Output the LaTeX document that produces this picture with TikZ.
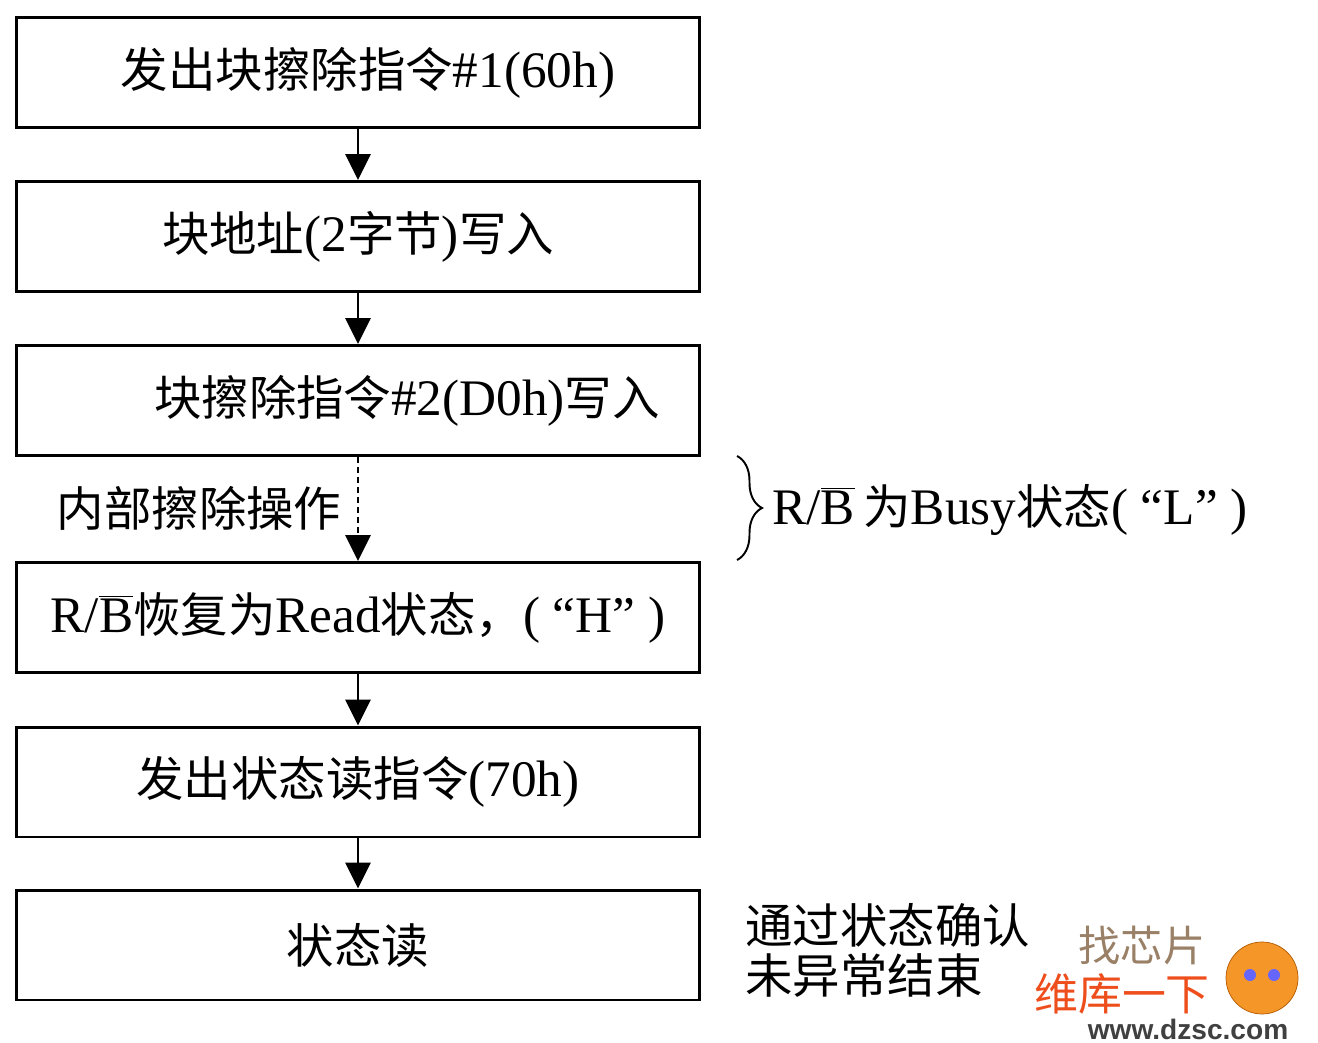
\documentclass[tikz,border=0pt]{standalone}
\usepackage{fontspec}
\setmainfont[Scale=1.08]{Liberation Serif}
\newfontfamily\cjk{Noto Sans CJK SC}
\newfontfamily\wmsans{Liberation Sans}
\usetikzlibrary{arrows.meta,decorations.pathreplacing}

% R/B-bar signal name
\newcommand{\rbsig}{R/$\overline{\hbox{B}}$}

\definecolor{wmred}{RGB}{238,78,28}
\definecolor{wmorange}{RGB}{245,150,40}

\tikzset{
  box/.style={draw, line width=1.7pt, minimum width=13.68cm, minimum height=2.2cm, inner sep=0pt},
  flow/.style={line width=1.6pt, -{Triangle[width=0.5cm,length=0.52cm]}},
}

\begin{document}
\begin{tikzpicture}[x=0.02cm, y=-0.02cm, font=\fontsize{27}{28.5}\selectfont]
    \useasboundingbox (0,0) rectangle (1318,1043);
    % the six steps
    \node[box] (cmd1)  at (358,72.5)  {\hspace*{0.4cm}{\cjk 发出块擦除指令}\#1(60h)};
    \node[box] (addr)  at (358,236.5) {{\cjk 块地址}(2{\cjk 字节}){\cjk 写入}};
    \node[box] (cmd2)  at (358,400.5) {\hspace*{1.96cm}{\cjk 块擦除指令}\#2(D0h){\cjk 写入}};
    \node[box] (ready) at (358,617.5) {\rbsig{\cjk 恢复为}Read{\cjk 状态，}( “H” )};
    \node[box] (cmd3)  at (358,782)   {{\cjk 发出状态读指令}(70h)};
    \node[box] (sread) at (358,945)   {\cjk 状态读};
    % arrows between steps
    \draw[flow] (cmd1) -- (addr);
    \draw[flow] (addr) -- (cmd2);
    \draw[flow, dash pattern=on 0.12cm off 0.08cm] (cmd2) -- (ready);
    \draw[flow] (ready) -- (cmd3);
    \draw[flow] (cmd3) -- (sread);
    % busy period
    \node[anchor=east] (erase) at (348,508) {\cjk 内部擦除操作};
    \coordinate (btop) at (737,456);
    \coordinate (bbot) at (737,560);
    \draw[line width=1.1pt, decorate, decoration={brace, amplitude=0.5cm}] (btop) -- (bbot);
    \node[anchor=west, inner sep=0pt] (busy) at (772,510) {\rbsig\,{\cjk 为}Busy{\cjk 状态}( “L” )};
    % end note
    \node[anchor=west, align=left, inner sep=0pt] (done) at (745,950) {\cjk 通过状态确认\\\cjk 未异常结束};
    % logo
    \node[text=gray!60!brown, font=\fontsize{24}{24}\cjk] (zhao) at (1142,945) {找芯片};
    \node[text=wmred, font=\fontsize{25}{25}\cjk, inner sep=0pt] (wk) at (1122,994) {维库一下};
    \node[text=black!75, font=\fontsize{16}{16}\wmsans\bfseries, inner sep=0pt] (url) at (1188,1029) {www.dzsc.com};
    \filldraw[wmorange, draw=orange!70!black] (1262,978) circle (36);
    \fill[blue!60] (1250,975) circle (6) (1274,975) circle (6);
\end{tikzpicture}
\end{document}
